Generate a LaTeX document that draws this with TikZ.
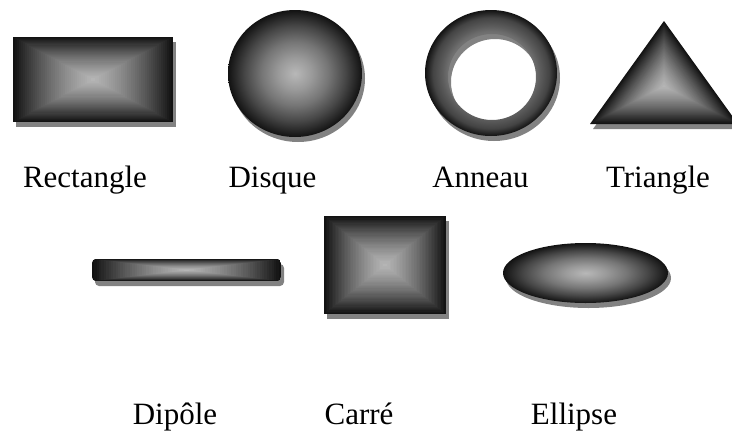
\documentclass[tikz,border=0pt]{standalone}
\usepackage{fontspec}
\setmainfont{Liberation Serif}
\usepackage{tikz}
\usetikzlibrary{
    shadings
}

\definecolor{shapedark}{RGB}{18,18,18}
\definecolor{shapelight}{RGB}{184,184,184}
\definecolor{shadowgray}{RGB}{130,130,130}

\pgfdeclareradialshading{diskshade}{\pgfpoint{0bp}{0bp}}{%
  color(0bp)=(shapelight); color(6.25bp)=(shapelight!82!shapedark);
  color(12.5bp)=(shapelight!60!shapedark); color(18.75bp)=(shapelight!32!shapedark);
  color(25bp)=(shapedark); color(50bp)=(shapedark)}
\pgfdeclareradialshading{ringshade}{\pgfpoint{0bp}{0bp}}{%
  color(0bp)=(shapelight); color(16.6bp)=(shapelight!55!shapedark);
  color(18.5bp)=(shapelight!45!shapedark); color(22bp)=(shapelight!30!shapedark);
  color(25bp)=(shapedark); color(50bp)=(shapedark)}

\begin{document}
\begin{tikzpicture}[x=1pt,y=-1pt,
    shadow/.style={fill=shadowgray, shift={(3,5)}},
    lbl/.style={font=\fontsize{31}{36}\selectfont, anchor=base, inner sep=0pt}]

\useasboundingbox (0,0) rectangle (732,437);

% Rectangle
\fill[shadow] (13,37) rectangle (173,122);
\foreach \i in {0,...,40} {
  \pgfmathsetmacro{\s}{1-\i/40}
  \pgfmathtruncatemacro{\p}{100*(1-\s)*(1+0.4*\s)}
  \fill[shapelight!\p!shapedark] ({93-80*\s},{79.5-42.5*\s}) rectangle ({93+80*\s},{79.5+42.5*\s});
}

% Disque
\fill[shadow] (295,73.5) ellipse [x radius=67, y radius=63.5];
\shade[shading=diskshade] (295,73.5) ellipse [x radius=67, y radius=63.5];

% Anneau
\fill[shadow, even odd rule] (491,73) ellipse [x radius=66, y radius=63]
  (492,77) ellipse [x radius=44, y radius=43];
\shade[shading=ringshade, even odd rule] (491,73) ellipse [x radius=66, y radius=63]
  (492,77) ellipse [x radius=44, y radius=43];

% Triangle
\fill[shadow] (664,21) -- (590,124) -- (738,124) -- cycle;
\foreach \i in {0,...,40} {
  \pgfmathsetmacro{\s}{1-\i/40}
  \pgfmathtruncatemacro{\p}{100*(1-\s)*(1+0.4*\s)}
  \fill[shapelight!\p!shapedark] ({664},{86-65*\s}) -- ({664-74*\s},{86+38*\s})
    -- ({664+74*\s},{86+38*\s}) -- cycle;
}

% Dipole
\fill[shadow, rounded corners=4] (92,259) rectangle (281,281);
\begin{scope}
  \clip[rounded corners=4] (92,259) rectangle (281,281);
  \foreach \i in {0,...,40} {
    \pgfmathsetmacro{\s}{1-\i/40}
    \pgfmathtruncatemacro{\p}{100*(1-\s)*(1+0.4*\s)}
    \fill[shapelight!\p!shapedark] ({186.5-94.5*\s},{270-11*\s}) rectangle ({186.5+94.5*\s},{270+11*\s});
  }
\end{scope}

% Carre
\fill[shadow] (324,216) rectangle (446,314);
\foreach \i in {0,...,40} {
  \pgfmathsetmacro{\s}{1-\i/40}
  \pgfmathtruncatemacro{\p}{100*(1-\s)*(1+0.4*\s)}
  \fill[shapelight!\p!shapedark] ({385-61*\s},{265-49*\s}) rectangle ({385+61*\s},{265+49*\s});
}

% Ellipse
\fill[shadow] (585.5,273) ellipse [x radius=82.5, y radius=30];
\shade[shading=diskshade] (585.5,273) ellipse [x radius=82.5, y radius=30];

% Labels
\node[lbl] (rectlbl) at (85,187) {Rectangle};
\node[lbl] (disklbl) at (272.5,187) {Disque};
\node[lbl] (ringlbl) at (480.5,187) {Anneau};
\node[lbl] (trilbl) at (658,187) {Triangle};
\node[lbl] (dipolelbl) at (175,424) {Dipôle};
\node[lbl] (carrelbl) at (359,424) {Carré};
\node[lbl] (ellipselbl) at (574,424) {Ellipse};

\end{tikzpicture}
\end{document}
